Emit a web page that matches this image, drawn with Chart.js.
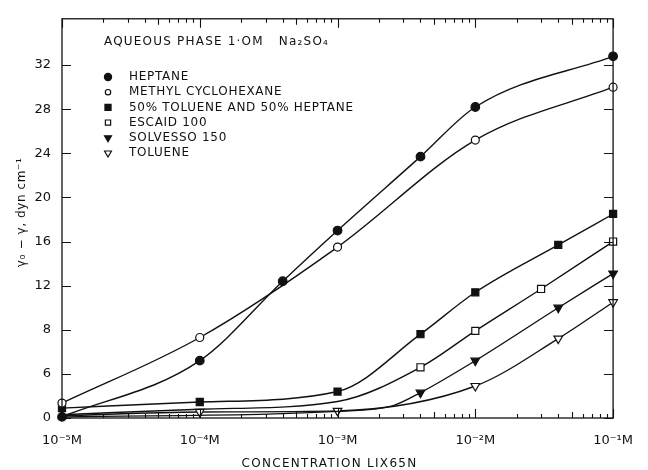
<!DOCTYPE html>
<html>
<head>
<meta charset="utf-8">
<script src="https://cdn.jsdelivr.net/npm/chart.js@4/dist/chart.umd.min.js"></script>
<style>
  html, body { margin: 0; padding: 0; background: #fff; }
  #wrap { width: 648px; height: 470px; position: relative; }
</style>
</head>
<body>
<div id="wrap"><canvas id="chart"></canvas></div>
<script>
// LIX65N concentration (M) vs interfacial tension lowering (dyn/cm)
const heptaneX = [1e-5, 1e-4, 4e-4, 1e-3, 4e-3, 1e-2, 1e-1];
const heptaneY = [0.1, 5.2, 12.4, 17.0, 23.7, 28.2, 32.8];

const methylX = [1e-5, 1e-4, 1e-3, 1e-2, 1e-1];
const methylY = [1.35, 7.3, 15.5, 25.2, 30.0];

const mixX = [1e-5, 1e-4, 1e-3, 4e-3, 1e-2, 4e-2, 1e-1];
const mixY = [0.9, 1.45, 2.4, 7.6, 11.4, 15.7, 18.5];

const escaidX = [1e-5, 1e-4, 1e-3, 4e-3, 1e-2, 3e-2, 1e-1];
const escaidY = [0.3, 0.8, 1.5, 4.6, 7.9, 11.7, 16.0];
const escaidShown = [0, 0, 0, 1, 1, 1, 1];

const solvessoX = [1e-5, 1e-3, 2.5e-3, 4e-3, 1e-2, 4e-2, 1e-1];
const solvessoY = [0.1, 0.6, 1.1, 2.3, 5.2, 10.0, 13.1];
const solvessoShown = [0, 0, 0, 1, 1, 1, 1];

const tolueneX = [1e-5, 1e-4, 1e-3, 1e-2, 4e-2, 1e-1];
const tolueneY = [0.2, 0.55, 0.65, 2.9, 7.2, 10.5];
const tolueneShown = [0, 1, 1, 1, 1, 1];

const yTicks = [0, 4, 8, 12, 16, 20, 24, 28, 32];
const yTickLabels = ['0', '6', '8', '12', '16', '20', '24', '28', '32'];
const xDecades = [1e-5, 1e-4, 1e-3, 1e-2, 1e-1];
const xDecadeLabels = ['10\u207B\u2075M', '10\u207B\u2074M', '10\u207B\u00B3M', '10\u207B\u00B2M', '10\u207B\u00B9M'];

const headerText = 'AQUEOUS PHASE 1\u00B7OM   Na\u2082SO\u2084';
const xTitle = 'CONCENTRATION LIX65N';
const yTitle = '\u03B3\u2080 \u2212 \u03B3, dyn cm\u207B\u00B9';
const FONT = "'DejaVu Sans', sans-serif";
const INK = '#111';

function series(label, xs, ys, style, fill, rot, size, legendSize, shown) {
    return {
        label: label,
        data: xs.map((x, i) => ({ x: x, y: ys[i] })),
        borderColor: INK,
        borderWidth: 1.4,
        cubicInterpolationMode: 'monotone',
        pointStyle: style,
        rotation: rot,
        pointBackgroundColor: fill,
        pointBorderColor: INK,
        pointBorderWidth: 1.2,
        pointRadius: shown ? shown.map(s => s ? size : 0) : size,
        pointHoverRadius: 0,
        clip: false,
        legendRadius: legendSize
    };
}

const datasets = [
    series('HEPTANE', heptaneX, heptaneY, 'circle', INK, 0, 4.3, 3.6),
    series('METHYL CYCLOHEXANE', methylX, methylY, 'circle', '#fff', 0, 4, 2.7),
    series('50% TOLUENE AND 50% HEPTANE', mixX, mixY, 'rect', INK, 0, 5, 4.3),
    series('ESCAID 100', escaidX, escaidY, 'rect', '#fff', 0, 5, 3.7, escaidShown),
    series('SOLVESSO 150', solvessoX, solvessoY, 'triangle', INK, 180, 5, 4, solvessoShown),
    series('TOLUENE', tolueneX, tolueneY, 'triangle', '#fff', 180, 5, 4, tolueneShown)
];

// frame + inward tick marks on all four sides
const frameTicks = {
    id: 'frameTicks',
    afterDraw(chart) {
        const { ctx, chartArea: a, scales: { x, y } } = chart;
        ctx.save();
        ctx.strokeStyle = INK;
        ctx.lineWidth = 1.3;
        ctx.strokeRect(a.left, a.top, a.right - a.left, a.bottom - a.top);
        ctx.lineWidth = 1.1;
        ctx.beginPath();
        for (let d = -5; d <= -1; d++) {
            for (let m = 1; m <= 9; m++) {
                if (d === -1 && m > 1) break;
                const v = m * Math.pow(10, d);
                const px = Math.round(x.getPixelForValue(v)) + 0.5;
                const len = m === 1 ? 9 : (m === 5 ? 6 : 4);
                ctx.moveTo(px, a.bottom); ctx.lineTo(px, a.bottom - len);
                ctx.moveTo(px, a.top); ctx.lineTo(px, a.top + len);
            }
        }
        yTicks.forEach(v => {
            const py = Math.round(y.getPixelForValue(v)) + 0.5;
            ctx.moveTo(a.left, py); ctx.lineTo(a.left + 9, py);
            ctx.moveTo(a.right, py); ctx.lineTo(a.right - 9, py);
        });
        ctx.stroke();
        ctx.restore();
    }
};

// header, legend and axis titles (letter-spaced lettering)
const textLayer = {
    id: 'textLayer',
    afterDraw(chart) {
        const ctx = chart.ctx;
        const a = chart.chartArea;
        ctx.save();
        ctx.fillStyle = INK;
        ctx.textBaseline = 'middle';
        ctx.font = '12px ' + FONT;
        ctx.letterSpacing = '1.2px';
        ctx.fillText(headerText, 104, 42);

        ctx.letterSpacing = '0.7px';
        chart.data.datasets.forEach((ds, i) => {
            const yy = 77 + i * 15.2;
            ctx.fillStyle = ds.pointBackgroundColor;
            ctx.strokeStyle = INK;
            ctx.lineWidth = 1.2;
            Chart.helpers.drawPoint(ctx, {
                pointStyle: ds.pointStyle,
                rotation: ds.rotation,
                radius: ds.legendRadius,
                borderWidth: 1.2
            }, 108, yy);
            ctx.fillStyle = INK;
            ctx.fillText(ds.label, 129, yy);
        });

        ctx.letterSpacing = '1.3px';
        ctx.textAlign = 'center';
        ctx.fillText(xTitle, (a.left + a.right) / 2 - 8, 464);
        ctx.translate(22, (a.top + a.bottom) / 2 - 6);
        ctx.rotate(-Math.PI / 2);
        ctx.letterSpacing = '0.6px';
        ctx.fillText(yTitle, 0, 0);
        ctx.restore();
    }
};

new Chart(document.getElementById('chart'), {
    type: 'line',
    data: { datasets: datasets },
    options: {
        responsive: true,
        maintainAspectRatio: false,
        animation: false,
        layout: { padding: { top: 14, right: 20, left: 0, bottom: 0 } },
        plugins: {
            legend: { display: false },
            tooltip: { enabled: false }
        },
        scales: {
            x: {
                type: 'logarithmic',
                min: 1e-5,
                max: 1e-1,
                afterBuildTicks: s => { s.ticks = xDecades.map(v => ({ value: v })); },
                afterFit: s => { s.height = 52; },
                grid: { display: false, drawTicks: false },
                border: { display: false },
                ticks: {
                    autoSkip: false,
                    maxRotation: 0,
                    padding: 15,
                    color: INK,
                    font: { family: FONT, size: 13 },
                    callback: (v) => {
                        const i = xDecades.findIndex(d => Math.abs(d - v) / d < 1e-6);
                        return i >= 0 ? xDecadeLabels[i] : '';
                    }
                }
            },
            y: {
                min: 0,
                max: 36.2,
                afterBuildTicks: s => { s.ticks = yTicks.map(v => ({ value: v })); },
                afterFit: s => { s.width = 62; },
                grid: { display: false, drawTicks: false },
                border: { display: false },
                ticks: {
                    padding: 11,
                    color: INK,
                    font: { family: FONT, size: 13 },
                    callback: (v) => {
                        const i = yTicks.indexOf(v);
                        return i >= 0 ? yTickLabels[i] : '';
                    }
                }
            }
        }
    },
    plugins: [frameTicks, textLayer]
});
</script>
</body>
</html>
